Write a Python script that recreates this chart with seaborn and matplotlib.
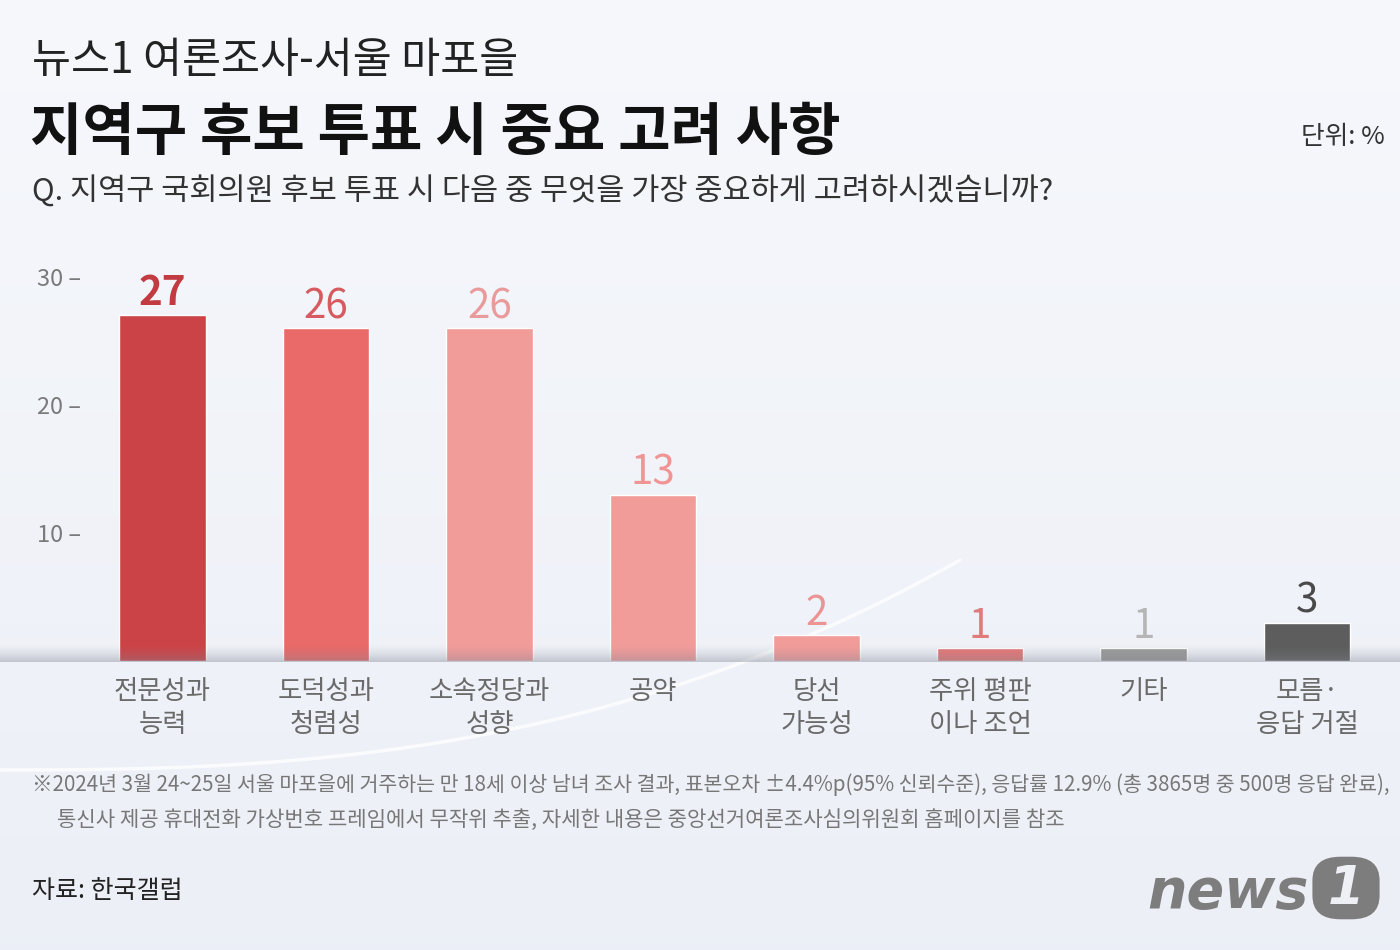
import numpy as np
import pandas as pd
import matplotlib
matplotlib.use("Agg")
import matplotlib.pyplot as plt
import seaborn as sns
from matplotlib.patches import FancyBboxPatch

# ---------------- data ----------------
categories = ["전문성과\n능력", "도덕성과\n청렴성", "소속정당과\n성향", "공약",
              "당선\n가능성", "주위 평판\n이나 조언", "기타", "모름·\n응답 거절"]
values = [27, 26, 26, 13, 2, 1, 1, 3]
bar_colors = ["#cc4347", "#ea6a69", "#f29c9a", "#f29c9a",
              "#f29c9a", "#e57877", "#9b9b9b", "#5d5d5d"]
label_colors = ["#c23b41", "#d65a5e", "#e99a9b", "#f09494",
                "#ec9494", "#e07a7b", "#b5b5b5", "#4a4a4a"]
label_weights = ["bold", "normal", "normal", "normal", "normal", "normal", "normal", "normal"]
yticks = [10, 20, 30]
ytick_labels = ["10 –", "20 –", "30 –"]

subtitle = "뉴스1 여론조사-서울 마포을"
title = "지역구 후보 투표 시 중요 고려 사항"
question = "Q. 지역구 국회의원 후보 투표 시 다음 중 무엇을 가장 중요하게 고려하시겠습니까?"
unit = "단위: %"
note1 = "※2024년 3월 24~25일 서울 마포을에 거주하는 만 18세 이상 남녀 조사 결과, 표본오차 ±4.4%p(95% 신뢰수준), 응답률 12.9% (총 3865명 중 500명 응답 완료),"
note2 = "통신사 제공 휴대전화 가상번호 프레임에서 무작위 추출, 자세한 내용은 중앙선거여론조사심의위원회 홈페이지를 참조"
source = "자료: 한국갤럽"

# ---------------- style ----------------
sns.set_theme(style="white")
plt.rcParams["font.family"] = ["Noto Sans CJK KR", "DejaVu Sans"]

W, H = 1400, 950
fig = plt.figure(figsize=(W / 100, H / 100), dpi=100)

def fy(py):
    return 1 - py / H

# background gradient
bg = fig.add_axes([0, 0, 1, 1], zorder=-10)
grad = np.linspace(0, 1, 256).reshape(-1, 1)
top = np.array([0.965, 0.972, 0.988])
bot = np.array([0.925, 0.937, 0.965])
img = top + (bot - top) * grad[..., None]
bg.imshow(img, aspect="auto", extent=[0, 1, 0, 1], origin="upper")
# faint decorative arc (pixel coordinates converted to figure fraction)
t = np.linspace(0, 1, 200)
arc_px = 960 * t
arc_py = 770 - 210 * t ** 2.6
bg.plot(arc_px / W, 1 - arc_py / H, color="white", lw=2.5, alpha=0.75)
bg.set_xlim(0, 1)
bg.set_ylim(0, 1)
bg.axis("off")

# main axes
left = 80.75 / W
right = 1388.75 / W
bottom = fy(661)
ymax = 30.5
height = ymax * 12.8 / H
ax = fig.add_axes([left, bottom, right - left, height], zorder=1)
ax.patch.set_alpha(0)

df = pd.DataFrame({"cat": categories, "val": values})
sns.barplot(data=df, x="cat", y="val", hue="cat", palette=bar_colors,
            order=categories, hue_order=categories, legend=False,
            width=0.526, saturation=1, ax=ax)
ax.set_xlim(-0.5, len(categories) - 0.5)
ax.set_ylim(0, ymax)
for s in ax.spines.values():
    s.set_visible(False)
ax.set_xlabel("")
ax.set_ylabel("")
ax.set_yticks(yticks)
ax.set_yticklabels(ytick_labels, fontsize=17, color="#7a7a7a", fontweight="light")
ax.tick_params(axis="y", length=0, pad=0)
ax.tick_params(axis="x", length=0, pad=12)
for lbl in ax.get_xticklabels():
    lbl.set_fontsize(19)
    lbl.set_color("#6a6a6a")
    lbl.set_linespacing(1.3)
    lbl.set_verticalalignment("top")

for i, v in enumerate(values):
    ax.annotate(str(v), xy=(i, v), xytext=(0, 10), textcoords="offset pixels",
                ha="center", va="baseline", fontsize=29,
                color=label_colors[i], fontweight=label_weights[i])

# baseline shading band (over bars)
band = fig.add_axes([0, fy(662), 1, 18 / H], zorder=2)
g = np.linspace(0, 1, 64).reshape(-1, 1)
rgba = np.zeros((64, 1, 4))
rgba[..., 0] = 0.50
rgba[..., 1] = 0.52
rgba[..., 2] = 0.57
rgba[..., 3] = (g ** 1.6) * 0.42
band.imshow(rgba, aspect="auto", extent=[0, 1, 0, 1], origin="upper")
band.axis("off")

# texts
fig.text(32 / W, fy(73), subtitle, fontsize=30.5, color="#222222", va="baseline", ha="left")
fig.text(30 / W, fy(150), title, fontsize=41, color="#111111", fontweight="bold",
         va="baseline", ha="left")
fig.text(32 / W, fy(201), question, fontsize=22, color="#333333", va="baseline", ha="left")
fig.text(1385 / W, fy(144), unit, fontsize=18.5, color="#333333", va="baseline", ha="right")
fig.text(32 / W, fy(791), note1, fontsize=14.8, color="#777777", va="baseline", ha="left")
fig.text(57 / W, fy(826), note2, fontsize=15.2, color="#777777", va="baseline", ha="left")
fig.text(32 / W, fy(898), source, fontsize=18, color="#222222", va="baseline", ha="left")

# news1 logo
fig.text(1147 / W, fy(908), "news", fontsize=40, color="#7d7d7d", fontweight="bold",
         style="italic", family=["DejaVu Sans"], va="baseline", ha="left")
logo_ax = fig.add_axes([1306 / W, fy(922), 80 / W, 68 / H], zorder=3)
logo_ax.set_xlim(0, 1)
logo_ax.set_ylim(0, 1)
logo_ax.axis("off")
logo_ax.add_patch(FancyBboxPatch((0.08, 0.04), 0.84, 0.92,
                                 boxstyle="round,pad=0,rounding_size=0.35",
                                 fc="#7d7d7d", ec="none"))
logo_ax.text(0.5, 0.48, "1", fontsize=38, color="#eef0f6", fontweight="bold",
             style="italic", family=["DejaVu Sans"], ha="center", va="center")

fig.savefig("out.png", dpi=100)
